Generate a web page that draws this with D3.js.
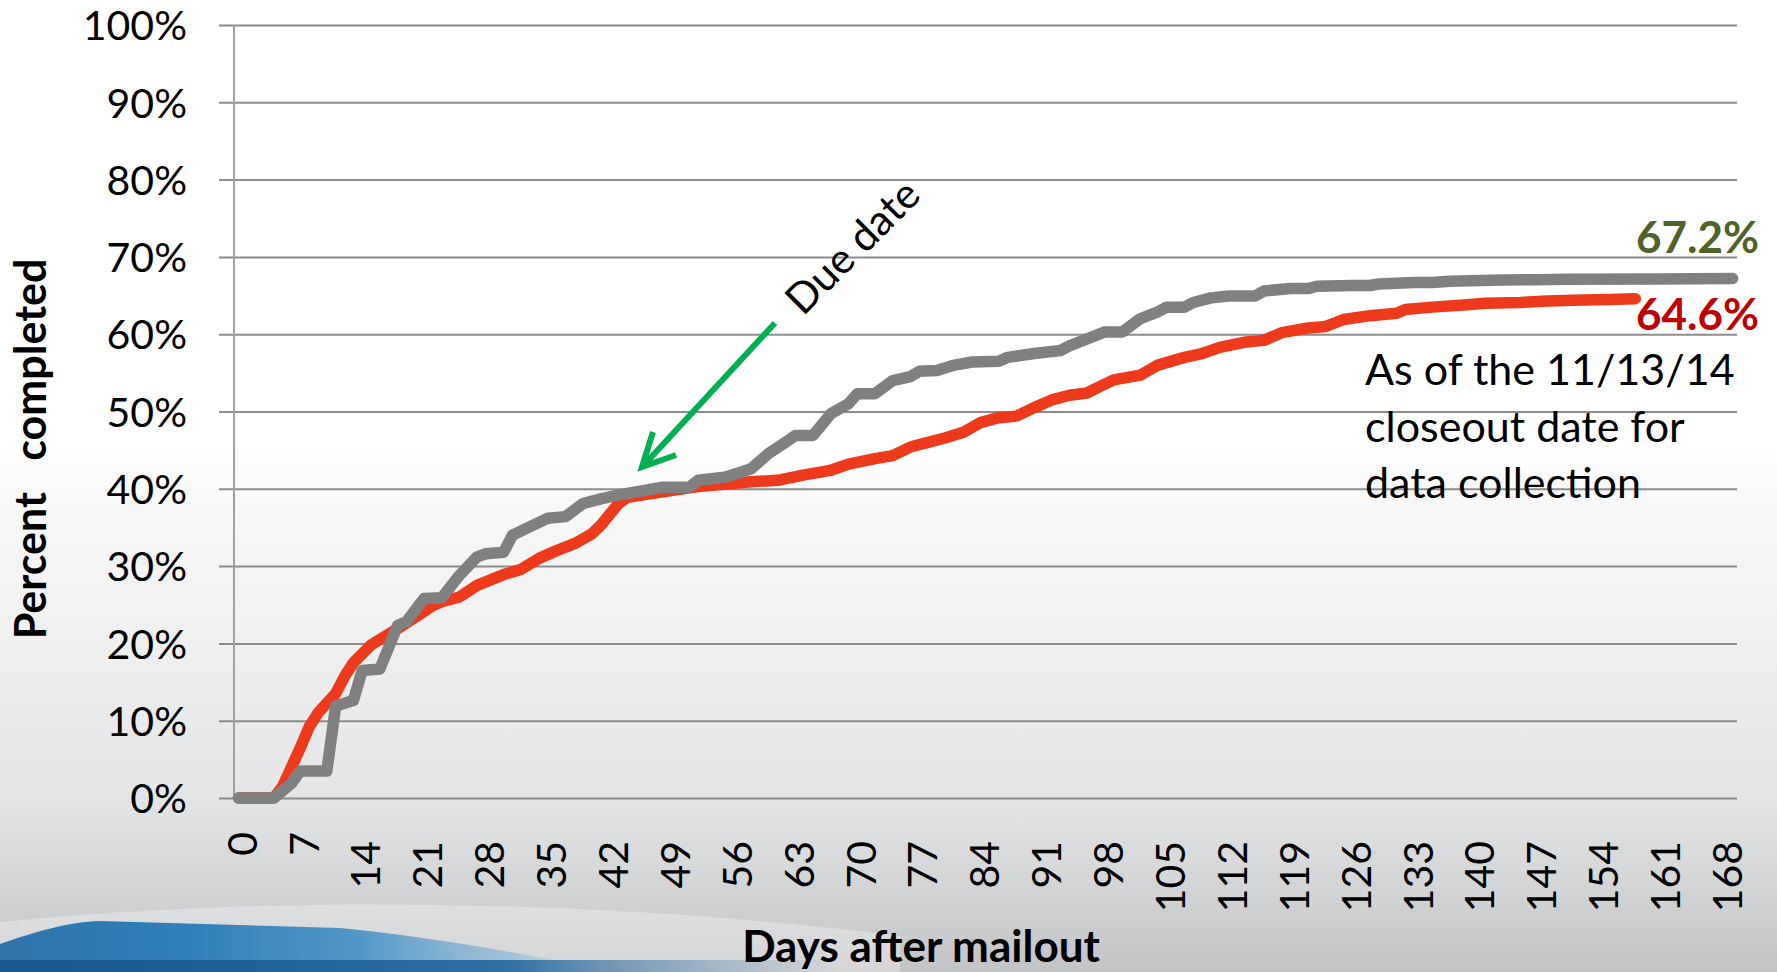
<!DOCTYPE html>
<html>
<head>
<meta charset="utf-8">
<script src="https://cdn.jsdelivr.net/npm/d3@7"></script>
<style>
body { margin: 0; overflow: hidden; }
text { font-family: Lato, "Open Sans", sans-serif; }
</style>
</head>
<body>
<svg id="chart" width="1777" height="972"></svg>
<script>
// day after mailout, percent completed
var grayDays = [0, 4, 6, 7, 10, 11, 13, 14, 16, 18, 19, 21, 23, 25, 27, 28, 30, 31, 33, 35, 37, 39, 41, 43, 45, 48, 51, 52, 55, 57, 58, 60, 62, 63, 65, 67, 69, 70, 72, 74, 76, 77, 79, 81, 83, 86, 87, 90, 93, 94, 96, 98, 100, 102, 104, 105, 107, 108, 110, 112, 115, 116, 119, 121, 122, 126, 128, 129, 133, 135, 137, 143, 147, 150, 160, 169];
var grayPct  = [0, 0, 1.9, 3.5, 3.5, 11.9, 12.6, 16.5, 16.7, 22.3, 22.8, 25.8, 25.9, 28.8, 31.2, 31.6, 31.8, 34.0, 35.1, 36.2, 36.4, 38.1, 38.7, 39.2, 39.6, 40.2, 40.2, 41.1, 41.5, 42.2, 42.6, 44.6, 46.1, 46.9, 46.9, 49.7, 51.0, 52.3, 52.3, 54.0, 54.5, 55.2, 55.3, 56.0, 56.4, 56.5, 57.0, 57.5, 57.9, 58.5, 59.4, 60.3, 60.3, 62.0, 62.9, 63.5, 63.5, 64.1, 64.7, 64.95, 64.95, 65.6, 65.9, 65.9, 66.2, 66.3, 66.3, 66.5, 66.7, 66.7, 66.85, 67.0, 67.05, 67.1, 67.15, 67.2];

var redDays = [0, 4, 5, 6, 7, 8, 9, 11, 12, 13, 15, 17, 18, 20, 22, 23, 25, 27, 30, 32, 34, 36, 38, 40, 41, 43, 44, 48, 52, 58, 61, 64, 66, 67, 69, 72, 74, 76, 78, 80, 82, 84, 86, 88, 90, 92, 94, 96, 97, 99, 102, 104, 107, 109, 111, 114, 116, 118, 121, 123, 125, 128, 131, 132, 135, 139, 141, 145, 148, 151, 155, 158];
var redPct  = [0, 0, 1.5, 4.0, 6.5, 9.2, 11.0, 13.5, 15.7, 17.5, 19.8, 21.2, 21.9, 23.4, 24.9, 25.4, 26.0, 27.5, 28.9, 29.6, 31.0, 32.0, 32.9, 34.2, 35.3, 38.1, 38.9, 39.6, 40.3, 40.9, 41.1, 41.8, 42.2, 42.4, 43.2, 43.9, 44.3, 45.4, 46.0, 46.6, 47.3, 48.6, 49.2, 49.4, 50.5, 51.5, 52.1, 52.4, 53.0, 54.1, 54.7, 56.0, 57.0, 57.5, 58.3, 59.0, 59.2, 60.2, 60.8, 61.0, 61.9, 62.4, 62.7, 63.2, 63.5, 63.8, 64.0, 64.1, 64.3, 64.4, 64.5, 64.6];

var yTicks = [0, 10, 20, 30, 40, 50, 60, 70, 80, 90, 100];
var xTicks = [0, 7, 14, 21, 28, 35, 42, 49, 56, 63, 70, 77, 84, 91, 98, 105, 112, 119, 126, 133, 140, 147, 154, 161, 168];
var noteLines = ["As of the 11/13/14", "closeout date for", "data collection"];

var svg = d3.select("#chart");
var plotL = 234, plotR = 1737, plotT = 25, plotB = 798;

var x = d3.scaleLinear().domain([-0.5, 169.5]).range([plotL, plotR]);
var y = d3.scaleLinear().domain([0, 100]).range([plotB, plotT]);

// slide background
var defs = svg.append("defs");
var bg = defs.append("linearGradient").attr("id", "bg")
    .attr("x1", 0).attr("y1", 0).attr("x2", 0).attr("y2", 1);
[[0, "#ffffff"], [0.46, "#ffffff"], [0.52, "#f8f8f8"], [0.67, "#efeff0"],
 [0.82, "#e4e5e7"], [1, "#c3c4c6"]].forEach(function (s) {
    bg.append("stop").attr("offset", s[0]).attr("stop-color", s[1]);
});
var blue = defs.append("linearGradient").attr("id", "blue")
    .attr("x1", 0).attr("y1", 0).attr("x2", 1).attr("y2", 0);
[[0, "#2f74ab", 1], [0.3, "#2f7fba", 1], [0.6, "#4b93c5", 0.95], [0.85, "#7fb2d4", 0.6], [1, "#a8c8dc", 0]].forEach(function (s) {
    blue.append("stop").attr("offset", s[0]).attr("stop-color", s[1]).attr("stop-opacity", s[2]);
});
var band = defs.append("linearGradient").attr("id", "band")
    .attr("x1", 0).attr("y1", 0).attr("x2", 1).attr("y2", 0);
[[0, "#1a5891", 1], [0.6, "#24679f", 0.9], [1, "#4a7fa8", 0]].forEach(function (s) {
    band.append("stop").attr("offset", s[0]).attr("stop-color", s[1]).attr("stop-opacity", s[2]);
});

svg.append("rect").attr("width", 1777).attr("height", 972).attr("fill", "url(#bg)");
svg.append("path")
    .attr("d", "M0,922 C250,896 600,898 900,936 L900,972 L0,972 Z")
    .attr("fill", "#ffffff").attr("opacity", 0.3);
svg.append("path")
    .attr("d", "M0,944 C40,930 70,922 100,921 L340,928 C440,938 510,952 600,968 L600,972 L0,972 Z")
    .attr("fill", "url(#blue)");
svg.append("rect").attr("x", 0).attr("y", 960).attr("width", 840).attr("height", 12)
    .attr("fill", "url(#band)");

// y axis with gridlines
var yAxis = svg.append("g")
    .attr("transform", "translate(219,0)")
    .call(d3.axisLeft(y).tickValues(yTicks)
        .tickSizeInner(-(plotR - 219)).tickSizeOuter(0).tickPadding(32)
        .tickFormat(function (d) { return d + "%"; }));
yAxis.select(".domain").remove();
yAxis.selectAll("line").attr("stroke", "#8c8c8c").attr("stroke-width", 2);
yAxis.selectAll("text").attr("fill", "#000").style("font-size", "41px")
    .style("font-family", "Lato").attr("dy", "0.36em");

svg.append("line").attr("x1", plotL).attr("x2", plotL).attr("y1", plotT).attr("y2", plotB)
    .attr("stroke", "#a0a0a0").attr("stroke-width", 2);

// x axis labels
var xAxis = svg.append("g")
    .attr("transform", "translate(0," + plotB + ")")
    .call(d3.axisBottom(x).tickValues(xTicks).tickSize(0));
xAxis.select(".domain").remove();
xAxis.selectAll("text")
    .attr("transform", "rotate(-90)")
    .attr("x", function (d) { return d < 10 ? -34 : -43; })
    .attr("y", 3)
    .attr("dy", "0.36em")
    .style("text-anchor", "end")
    .style("font-size", "41px").style("font-family", "Lato").attr("fill", "#000");

// series
var line = d3.line()
    .x(function (d) { return x(d[0]); })
    .y(function (d) { return y(d[1]); });

function drawSeries(days, pct, color) {
    svg.append("path")
        .datum(d3.zip(days, pct))
        .attr("d", line)
        .attr("fill", "none")
        .attr("stroke", color)
        .attr("stroke-width", 11.5)
        .attr("stroke-linejoin", "round")
        .attr("stroke-linecap", "round");
}
drawSeries(redDays, redPct, "#ee3a1c");
drawSeries(grayDays, grayPct, "#808080");

// end labels
svg.append("text").attr("x", 1759).attr("y", 253).attr("text-anchor", "end")
    .style("font-size", "44px").style("font-weight", "bold").attr("fill", "#4f6228")
    .text("67.2%");
svg.append("text").attr("x", 1759).attr("y", 330).attr("text-anchor", "end")
    .style("font-size", "44px").style("font-weight", "bold").attr("fill", "#c00000")
    .text("64.6%");

var note = svg.append("text").attr("x", 1365).attr("y", 385)
    .style("font-size", "43px").attr("fill", "#000");
note.selectAll("tspan").data(noteLines).enter().append("tspan")
    .attr("x", 1365).attr("dy", function (d, i) { return i ? 56.7 : 0; })
    .text(function (d) { return d; });

// due date annotation
svg.append("text")
    .attr("transform", "translate(803,317) rotate(-45)")
    .style("font-size", "42px").attr("fill", "#000")
    .text("Due date");
svg.append("path")
    .attr("d", "M775,323 L644,465 M653,432 L642,467 L676,455")
    .attr("fill", "none").attr("stroke", "#00b050").attr("stroke-width", 6)
    .attr("stroke-linejoin", "miter");

// axis titles
svg.append("text").attr("x", 921).attr("y", 962).attr("text-anchor", "middle")
    .style("font-size", "44px").style("font-weight", "bold").attr("fill", "#000")
    .text("Days after mailout");
svg.append("text")
    .attr("transform", "translate(46,449) rotate(-90)")
    .attr("text-anchor", "middle")
    .style("font-size", "43px").style("font-weight", "bold").style("white-space", "pre")
    .attr("fill", "#000")
    .text("Percent   completed");
</script>
</body>
</html>
